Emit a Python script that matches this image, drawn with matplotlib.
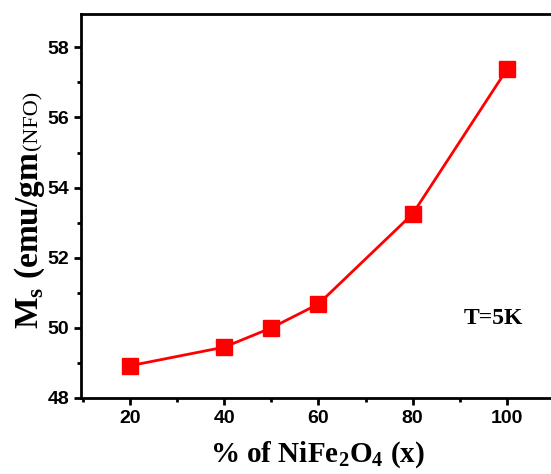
import matplotlib
matplotlib.use('Agg')
import matplotlib.pyplot as plt
from matplotlib.ticker import MultipleLocator

# NiFe2O4 content (%) and saturation magnetisation at 5 K
nfo_pct = [20, 40, 50, 60, 80, 100]
ms_vals = [48.92, 49.45, 50.0, 50.68, 53.25, 57.37]
x_ticks = [20, 40, 60, 80, 100]
y_ticks = [48, 50, 52, 54, 56, 58]

W, H = 551, 474
plt.rcParams['mathtext.fontset'] = 'custom'
plt.rcParams['mathtext.rm'] = 'Liberation Serif'
plt.rcParams['mathtext.bf'] = 'Liberation Serif:bold'

fig = plt.figure(figsize=(W/100, H/100), dpi=100)
# right spine sits just off the image, like the cropped original
ax = fig.add_axes([81/W, 76/H, (554 - 81)/W, (398 - 14)/H])

ax.plot(nfo_pct, ms_vals, color='#ff0000', lw=2, marker='s', ms=11.5,
        mec='#ff0000', mfc='#ff0000')

ax.set_xlim(9.6, 110)
ax.set_ylim(48, 58.95)
ax.set_xticks(x_ticks)
ax.set_yticks(y_ticks)
ax.xaxis.set_minor_locator(MultipleLocator(10))
ax.yaxis.set_minor_locator(MultipleLocator(1))
ax.tick_params(which='major', direction='out', length=5, width=2)
ax.tick_params(which='minor', direction='out', length=3, width=2)
for lab in ax.get_xticklabels() + ax.get_yticklabels():
    lab.set_family('Liberation Sans')
    lab.set_weight('bold')
    lab.set_size(14)
for sp in ax.spines.values():
    sp.set_linewidth(2)

ax.set_xlabel(r'% of NiFe$_\mathbf{2}$O$_\mathbf{4}$ (x)', family='Liberation Serif',
              weight='bold', size=21, labelpad=9)

# y label: main part bold, "(NFO)" smaller and plain, on the same baseline
ylab = fig.text(30/W, 1 - 240/H, r'M$_\mathbf{s}$ (emu/gm', family='Liberation Serif',
                weight='bold', size=24, rotation=90, ha='center', va='center')
fig.canvas.draw()
bb = ylab.get_window_extent()
fig.text((bb.x1 - 5)/W, (bb.y1 + 1)/H, '(NFO)', family='Liberation Serif',
         size=16, rotation=90, ha='right', va='bottom')

ax.text(97.1, 50.28, 'T=5K', family='Liberation Serif', weight='bold', size=17,
        ha='center', va='center')

fig.savefig('out.png', dpi=100)
